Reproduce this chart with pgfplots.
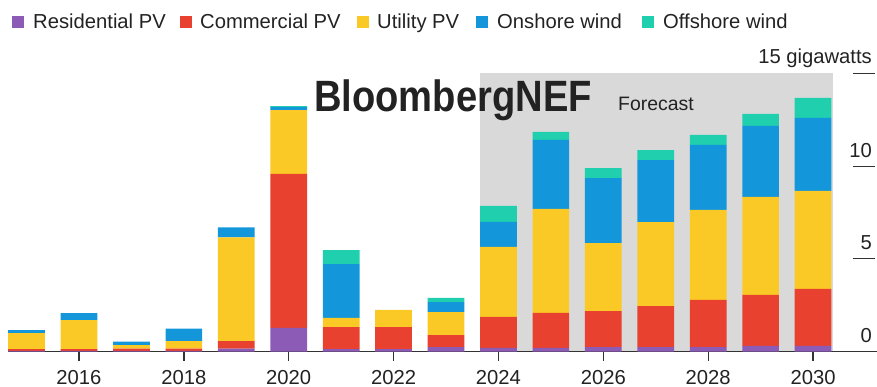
\documentclass[border=0pt]{standalone}
\usepackage{fontspec}
\setmainfont{Liberation Sans}
\usepackage{pgfplots}
\pgfplotsset{compat=1.18}
\usepackage{pgfplotstable}
\definecolor{cRes}{HTML}{8C5BB6}
\definecolor{cCom}{HTML}{E8412F}
\definecolor{cUtil}{HTML}{FBC925}
\definecolor{cOn}{HTML}{1496DA}
\definecolor{cOff}{HTML}{1FCFAE}
\definecolor{cGray}{HTML}{D9D9D9}
\definecolor{axisc}{HTML}{333333}
\definecolor{txt}{HTML}{222222}
\newcommand{\fs}{\fontsize{20.3}{24}\selectfont}
\pgfplotstableread{
year res com util on off
2015 0.03 0.10 0.86 0.16 0.00
2016 0.03 0.10 1.56 0.38 0.00
2017 0.03 0.12 0.20 0.18 0.00
2018 0.03 0.12 0.41 0.68 0.00
2019 0.15 0.41 5.60 0.54 0.00
2020 1.27 8.31 3.45 0.16 0.05
2021 0.13 1.19 0.49 2.90 0.76
2022 0.13 1.19 0.92 0.00 0.00
2023 0.24 0.65 1.24 0.54 0.22
2024 0.20 1.67 3.78 1.35 0.86
2025 0.20 1.89 5.61 3.72 0.43
2026 0.24 1.94 3.67 3.51 0.54
2027 0.24 2.21 4.53 3.35 0.54
2028 0.24 2.54 4.86 3.51 0.54
2029 0.30 2.75 5.29 3.83 0.65
2030 0.30 3.08 5.29 3.94 1.08
}\datatable
\pgfplotsset{base/.style={
  at={(8bp,35.5bp)}, anchor=south west, scale only axis,
  width=869bp, height=278bp,
  xmin=2014.646, xmax=2031.22, ymin=0, ymax=15,
  xtick=\empty, ytick=\empty, clip=false}}
\begin{document}
\begin{tikzpicture}
% background: forecast shading
\begin{axis}[base, hide axis]
\addplot[fill=cGray, draw=none] coordinates {(2023.65,0) (2023.65,15) (2030.38,15) (2030.38,0)} -- cycle;
\end{axis}
\begin{axis}[
  base,
  ybar stacked, bar width=0.7,
  axis x line*=bottom, axis y line=none,
  axis line style={draw=axisc, line width=1.5bp},
]
\addplot[fill=cRes, draw=none] table[x=year,y=res]{\datatable};
\addplot[fill=cCom, draw=none] table[x=year,y=com]{\datatable};
\addplot[fill=cUtil, draw=none] table[x=year,y=util]{\datatable};
\addplot[fill=cOn, draw=none] table[x=year,y=on]{\datatable};
\addplot[fill=cOff, draw=none] table[x=year,y=off]{\datatable};
\draw[axisc, line width=1.3bp] (axis cs:2030.76,5) -- (axis cs:2031.18,5);
\draw[axisc, line width=1.3bp] (axis cs:2030.76,10) -- (axis cs:2031.18,10);
\draw[axisc, line width=1.3bp] (axis cs:2030.76,15) -- (axis cs:2031.18,15);
\node[anchor=base east, inner sep=0pt, font=\fs, text=txt] at (axis cs:2031.125,0.48) {0};
\node[anchor=base east, inner sep=0pt, font=\fs, text=txt] at (axis cs:2031.125,5.48) {5};
\node[anchor=base east, inner sep=0pt, font=\fs, text=txt] at (axis cs:2031.125,10.48) {10};
\node[anchor=base east, inner sep=0pt, font=\fs, text=txt] at (axis cs:2031.125,15.55) {15 gigawatts};
\pgfplotsinvokeforeach{2016,2018,2020,2022,2024,2026,2028,2030}{
  \draw[axisc, line width=1.3bp] (axis cs:#1,0) -- ([yshift=-9bp]axis cs:#1,0);
  \node[anchor=base, inner sep=0pt, font=\fs, text=txt, yshift=-33bp] at (axis cs:#1,0) {#1};
}
\end{axis}
% legend
\fill[cRes]  (11.5bp,358.5bp) rectangle ++(12bp,12bp);
\fill[cCom]  (180bp,358.5bp) rectangle ++(12bp,12bp);
\fill[cUtil] (357bp,358.5bp) rectangle ++(12bp,12bp);
\fill[cOn]   (476bp,358.5bp) rectangle ++(12bp,12bp);
\fill[cOff]  (642bp,358.5bp) rectangle ++(12bp,12bp);
\node[anchor=base west, inner sep=0pt, font=\fs, text=txt] at (33bp,358bp) {Residential PV};
\node[anchor=base west, inner sep=0pt, font=\fs, text=txt] at (200bp,358bp) {Commercial PV};
\node[anchor=base west, inner sep=0pt, font=\fs, text=txt] at (377bp,358bp) {Utility PV};
\node[anchor=base west, inner sep=0pt, font=\fs, text=txt] at (497bp,358bp) {Onshore wind};
\node[anchor=base west, inner sep=0pt, font=\fs, text=txt] at (663bp,358bp) {Offshore wind};
% brand and forecast
\node[anchor=base west, inner sep=0pt, text=txt] at (314bp,275.3bp) {\scalebox{0.87}[1]{\fontsize{44}{44}\selectfont\bfseries BloombergNEF}};
\node[anchor=base west, inner sep=0pt, text=txt, font=\fontsize{19.5}{22}\selectfont] at (618bp,276bp) {Forecast};
\pgfresetboundingbox
\path[use as bounding box] (0,0) rectangle (877bp,387bp);
\end{tikzpicture}
\end{document}
